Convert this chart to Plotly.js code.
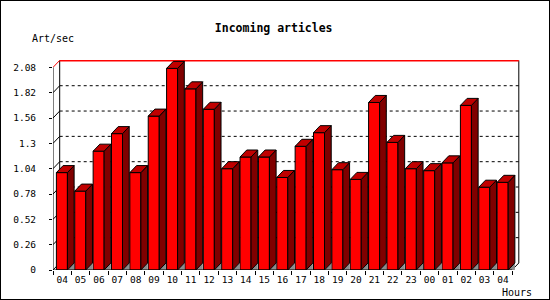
<!DOCTYPE html>
<html>
<head>
<meta charset="utf-8">
<script src="https://cdn.plot.ly/plotly-3.0.1.min.js"></script>
<style>
  html, body { margin: 0; padding: 0; background: #fff; }
  #wrap { position: relative; width: 550px; height: 300px; }
  #chart { width: 550px; height: 300px; }
  #frame { position: absolute; left: 0; top: 0; width: 550px; height: 300px; box-sizing: border-box; border: 1px solid #000; pointer-events: none; }
</style>
</head>
<body>
<div id="wrap"><div id="chart"></div><div id="frame"></div></div>
<script>
// ---- data ----
const hours = ["04","05","06","07","08","09","10","11","12","13","14","15","16","17","18","19","20","21","22","23","00","01","02","03","04"];
const artPerSec = [1.00, 0.81, 1.22, 1.40, 1.00, 1.58, 2.07, 1.86, 1.65, 1.04, 1.16, 1.16, 0.95, 1.27, 1.41, 1.03, 0.93, 1.72, 1.31, 1.04, 1.02, 1.10, 1.69, 0.85, 0.90];
const yTickVals = [0, 0.26, 0.52, 0.78, 1.04, 1.3, 1.56, 1.82, 2.08];
const yTickText = ["0", "0.26", "0.52", "0.78", "1.04", "1.3", "1.56", "1.82", "2.08"];

(function () {
// ---- 3D geometry (in axis units) ----
const DX = 0.365, DY = 0.072;
const LEFT = -0.315, W = 0.6;
const XMIN = -0.5, XMAX = 24.93, YMAX = 2.156;
const idx = hours.map((_, i) => i);
const nSlots = hours.length;

const sideX = [], sideY = [], topX = [], topY = [], flX = [], flY = [];
idx.forEach(i => {
  const v = artPerSec[i];
  const xl = i + LEFT, xr = i + LEFT + W;
  sideX.push(xr, xr + DX, xr + DX, xr, xr, null);
  sideY.push(0, DY, v + DY, v, 0, null);
  topX.push(xl, xl + DX, xr + DX, xr, xl, null);
  topY.push(v, v + DY, v + DY, v, v, null);
  flX.push(xr, xr + DX, xr + DX, xr, null);
  flY.push(0, DY, 0, 0, null);
});

const traces = [
  { type: 'bar', x: idx, y: artPerSec, width: W, offset: LEFT,
    marker: { color: '#ff0000', line: { color: '#000', width: 1 } }, hoverinfo: 'skip' },
  { type: 'scatter', mode: 'lines', x: flX, y: flY, fill: 'toself', fillcolor: '#8c8c8c',
    line: { width: 0, color: 'rgba(0,0,0,0)' }, hoverinfo: 'skip' },
  { type: 'scatter', mode: 'lines', x: sideX, y: sideY, fill: 'toself', fillcolor: '#800000',
    line: { width: 1, color: '#000' }, hoverinfo: 'skip' },
  { type: 'scatter', mode: 'lines', x: topX, y: topY, fill: 'toself', fillcolor: '#c00000',
    line: { width: 1, color: '#000' }, hoverinfo: 'skip' }
];

const xFront0 = XMIN, xFront1 = XMIN + nSlots;
const shapes = [];
yTickVals.forEach(v => {
  if (v > 0 && v < 2.08) {
    shapes.push({ type: 'line', layer: 'below', xref: 'x', yref: 'y', x0: xFront0 + DX, x1: xFront1 + DX, y0: v + DY, y1: v + DY,
      line: { color: '#000', width: 1, dash: 'dot' } });
    shapes.push({ type: 'line', layer: 'below', xref: 'x', yref: 'y', x0: xFront0, x1: xFront0 + DX, y0: v, y1: v + DY,
      line: { color: '#000', width: 1 } });
  }
});
const yTop = yTickVals[yTickVals.length - 1];
shapes.push(
  { type: 'line', layer: 'below', xref: 'x', yref: 'y', x0: xFront0 + DX, x1: xFront0 + DX, y0: DY, y1: yTop + DY, line: { color: '#000', width: 1 } },
  { type: 'line', layer: 'below', xref: 'x', yref: 'y', x0: xFront1 + DX, x1: xFront1 + DX, y0: DY, y1: yTop + DY, line: { color: '#000', width: 1 } },
  { type: 'line', layer: 'below', xref: 'x', yref: 'y', x0: xFront1, x1: xFront1 + DX, y0: 0, y1: DY, line: { color: '#000', width: 1 } },
  { type: 'line', layer: 'below', xref: 'x', yref: 'y', x0: xFront0, x1: xFront0 + DX, y0: 0, y1: DY, line: { color: '#000', width: 1 } },
  { type: 'line', layer: 'below', xref: 'x', yref: 'y', x0: xFront0 + DX, x1: xFront1 + DX, y0: yTop + DY, y1: yTop + DY, line: { color: '#ff0000', width: 2 } },
  { type: 'line', layer: 'below', xref: 'x', yref: 'y', x0: xFront0, x1: xFront0 + DX, y0: yTop, y1: yTop + DY, line: { color: '#ff0000', width: 1 } },
  { type: 'line', layer: 'above', xref: 'x', yref: 'y', x0: xFront0, x1: xFront0, y0: 0, y1: yTop, line: { color: '#000', width: 1 } },
  { type: 'line', layer: 'above', xref: 'x', yref: 'y', x0: xFront0, x1: xFront1, y0: 0, y1: 0, line: { color: '#000', width: 1 } }
);

const F = 'DejaVu Sans Mono, monospace';
const layout = {
  width: 550, height: 300,
  margin: { l: 53, r: 30, t: 60, b: 30, pad: 0 },
  paper_bgcolor: '#fff', plot_bgcolor: '#fff',
  showlegend: false,
  title: { text: '<b>Incoming articles</b>', font: { family: F, size: 11.5, color: '#000' },
           x: 273.7 / 550, xanchor: 'center', xref: 'container', y: 1 - 28 / 300, yref: 'container', yanchor: 'middle' },
  xaxis: {
    range: [XMIN, XMAX], showgrid: false, zeroline: false, showline: false,
    tickvals: idx, ticktext: hours, ticks: '', tickfont: { family: F, size: 9.5, color: '#000' },
    minor: { tick0: -0.5, dtick: 1, ticks: 'outside', ticklen: 4, tickcolor: '#000', showgrid: false },
    ticklabelstandoff: 2, fixedrange: true
  },
  yaxis: {
    range: [0, YMAX], showgrid: false, zeroline: false, showline: false,
    tickvals: yTickVals, ticktext: yTickText, ticks: 'outside', ticklen: 3, tickcolor: '#000',
    tickfont: { family: F, size: 9.5, color: '#000' }, ticklabelstandoff: 11, fixedrange: true
  },
  shapes: shapes,
  annotations: [
    { text: 'Art/sec', xref: 'paper', yref: 'paper', x: (29.5 - 53) / 467, y: (270 - 39) / 210,
      xanchor: 'left', yanchor: 'middle', showarrow: false, font: { family: F, size: 10, color: '#000' } },
    { text: 'Hours', xref: 'paper', yref: 'paper', x: (534 - 53) / 467, y: (270 - 292.5) / 210,
      xanchor: 'right', yanchor: 'middle', showarrow: false, font: { family: F, size: 10, color: '#000' } }
  ],
  hovermode: false
};

Plotly.newPlot('chart', traces, layout, { staticPlot: true, displayModeBar: false });
})();
</script>
</body>
</html>
